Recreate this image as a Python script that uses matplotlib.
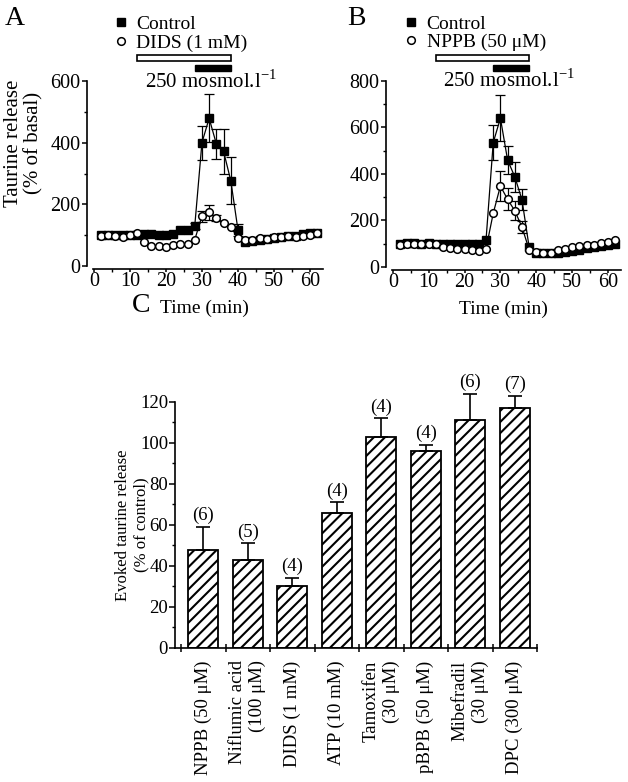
import matplotlib
matplotlib.use('Agg')
import matplotlib.pyplot as plt
from matplotlib.lines import Line2D
from matplotlib.patches import Rectangle
from matplotlib.ticker import MultipleLocator
import numpy as np

plt.rcParams['font.family'] = ['Liberation Serif', 'DejaVu Serif']
plt.rcParams['mathtext.fontset'] = 'custom'
plt.rcParams['mathtext.rm'] = 'Liberation Serif'
plt.rcParams['hatch.linewidth'] = 1.5

# ---- panel A / B : time course (min) ----
time = [2, 4, 6, 8, 10, 12, 14, 16, 18, 20, 22, 24, 26, 28, 30, 32,
        34, 36, 38, 40, 42, 44, 46, 48, 50, 52, 54, 56, 58, 60, 62]

a_ctrl = [100, 100, 100, 102, 100, 100, 104, 104, 100, 100, 104, 117, 117, 129, 400, 479,
          396, 372, 277, 117, 78, 80, 84, 88, 92, 94, 96, 98, 104, 106, 108]
a_ctrl_err = [0, 0, 0, 0, 0, 0, 0, 0, 0, 0, 0, 0, 0, 10, 55, 78,
              50, 72, 75, 18, 0, 0, 0, 0, 0, 0, 0, 0, 0, 0, 0]
a_dids = [98, 100, 98, 95, 100, 108, 79, 66, 66, 62, 67, 73, 73, 85, 162, 174,
          156, 140, 127, 91, 84, 84, 90, 88, 95, 95, 98, 95, 98, 100, 106]
a_dids_err = [0, 0, 0, 0, 0, 0, 0, 0, 0, 0, 0, 0, 0, 0, 18, 24,
              10, 0, 0, 0, 0, 0, 0, 0, 0, 0, 0, 0, 0, 0, 0]

b_ctrl = [100, 102, 102, 100, 102, 100, 98, 98, 98, 98, 98, 98, 118, 535, 640, 460,
          388, 290, 86, 62, 60, 58, 60, 65, 70, 75, 80, 85, 90, 95, 100]
b_ctrl_err = [0, 0, 0, 0, 0, 0, 0, 0, 0, 0, 0, 0, 0, 76, 100, 60,
              65, 47, 0, 0, 0, 0, 0, 0, 0, 0, 0, 0, 0, 0, 0]
b_nppb = [95, 98, 100, 97, 100, 97, 86, 83, 79, 76, 72, 69, 79, 231, 348, 291,
          242, 172, 75, 65, 62, 62, 72, 79, 86, 89, 93, 96, 103, 108, 115]
b_nppb_err = [0, 0, 0, 0, 0, 0, 0, 0, 0, 0, 0, 0, 0, 0, 66, 48,
              40, 25, 0, 0, 0, 0, 0, 0, 0, 0, 0, 0, 0, 0, 0]

drug_period = (12, 38)
hypo_period = (28, 38)

# ---- panel C : evoked release ----
drugs = ['NPPB (50 \u03bcM)', 'Niflumic acid\n(100 \u03bcM)', 'DIDS (1 mM)', 'ATP (10 mM)',
         'Tamoxifen\n(30 \u03bcM)', 'pBPB (50 \u03bcM)', 'Mibefradil\n(30 \u03bcM)', 'DPC (300 \u03bcM)']
evoked = [48, 43, 30, 66, 103, 96, 111, 117]
evoked_err = [11, 8, 4, 5, 9, 3, 13, 6]
n_exp = [6, 5, 4, 4, 4, 4, 6, 7]

fig = plt.figure(figsize=(6.28, 7.82), dpi=100)


def time_panel(ax, ctrl, ctrl_err, drug, drug_err, drug_label, ymax, ystep):
    ax.plot(time, ctrl, '-s', color='k', ms=5.5, lw=0.9, zorder=2, clip_on=False)
    ax.plot(time, drug, '-o', color='k', mfc='white', mec='k', mew=1.1, ms=5.5,
            lw=0.9, zorder=3, clip_on=False)
    for y, e, z in [(ctrl, ctrl_err, 1.5), (drug, drug_err, 2.5)]:
        sel = [i for i in range(len(time)) if e[i] > 0]
        ax.errorbar([time[i] for i in sel], [y[i] for i in sel], yerr=[e[i] for i in sel],
                    fmt='none', ecolor='k', elinewidth=0.9, capsize=3.5, capthick=0.9,
                    zorder=z)
    ax.set_xlim(-1.9, 63.5)
    ax.set_ylim(0, ymax)
    ax.spines['top'].set_visible(False)
    ax.spines['right'].set_visible(False)
    ax.spines['bottom'].set_bounds(-0.2, 63.5)
    ax.spines['bottom'].set_position(('outward', 2))
    for s in ['left', 'bottom']:
        ax.spines[s].set_linewidth(1.2)
    ax.xaxis.set_major_locator(MultipleLocator(10))
    ax.xaxis.set_minor_locator(MultipleLocator(5))
    ax.yaxis.set_major_locator(MultipleLocator(ystep))
    ax.yaxis.set_minor_locator(MultipleLocator(ystep / 2))
    ax.tick_params(which='major', length=3.5, width=1.1, labelsize=14.5, pad=1)
    ax.tick_params(axis='x', which='major', length=2.5, pad=0)
    ax.tick_params(which='minor', length=2.2, width=1.0)
    ax.set_xlabel('Time (min)', fontsize=14, labelpad=6)

    tr = ax.get_xaxis_transform()
    ax.add_patch(Rectangle((drug_period[0], 1.108), drug_period[1] - drug_period[0], 0.033,
                           transform=tr, facecolor='white', edgecolor='k', lw=1.2, clip_on=False))
    ax.add_patch(Rectangle((hypo_period[0], 1.056), hypo_period[1] - hypo_period[0], 0.03,
                           transform=tr, facecolor='k', edgecolor='k', lw=1, clip_on=False))
    ax.text(32.5, 1.0, r'250 mosmol.l$^{\mathregular{-1}}$', transform=tr,
            ha='center', va='center', fontsize=15)

    handles = [Line2D([], [], ls='none', marker='s', color='k', ms=5.5),
               Line2D([], [], ls='none', marker='o', mfc='white', mec='k', mew=1.1, ms=5.5)]
    ax.legend(handles, ['Control', drug_label], loc='upper left', frameon=False,
              fontsize=14, handlelength=0.8, handletextpad=0.4, labelspacing=0.05,
              borderpad=0, borderaxespad=0, bbox_to_anchor=(0.11, 1.354))


axA = fig.add_axes([0.1385, 0.6598, 0.3753, 0.2366])
time_panel(axA, a_ctrl, a_ctrl_err, a_dids, a_dids_err, 'DIDS (1 mM)', 600, 200)
axA.set_ylabel('Taurine release\n(% of basal)', fontsize=15, linespacing=1.1)
axA.yaxis.set_label_coords(-0.185, 0.665)

axB = fig.add_axes([0.6146, 0.6586, 0.3736, 0.2379])
time_panel(axB, b_ctrl, b_ctrl_err, b_nppb, b_nppb_err, 'NPPB (50 \u03bcM)', 800, 200)
axB.get_legend().set_bbox_to_anchor((0.074, 1.354))

# ---- panel C ----
axC = fig.add_axes([0.2787, 0.1714, 0.5764, 0.3146])
x = np.arange(len(drugs))
axC.bar(x, evoked, width=0.67, color='white', edgecolor='k', hatch='///', lw=1.3, zorder=2)
eb = axC.errorbar(x, evoked, yerr=[np.zeros(len(x)), evoked_err], fmt='none', ecolor='k',
                  elinewidth=1.2, capsize=5, capthick=1.2, zorder=3)
for art in list(eb.lines[1]) + list(eb.lines[2]):
    art.set_clip_on(False)
for xi, v, e, n in zip(x, evoked, evoked_err, n_exp):
    axC.annotate('(%d)' % n, (xi, v + e), xytext=(0, 2), textcoords='offset points',
                 ha='center', va='bottom', fontsize=13.5, annotation_clip=False)
axC.set_xlim(-0.635, len(drugs) - 0.5)
axC.set_ylim(0, 120)
axC.spines['top'].set_visible(False)
axC.spines['right'].set_visible(False)
for s in ['left', 'bottom']:
    axC.spines[s].set_linewidth(1.2)
axC.set_xticks(np.arange(len(drugs) + 1) - 0.5)
axC.set_xticklabels([])
axC.set_xticks(x, drugs, minor=True)
axC.tick_params(axis='x', which='major', direction='inout', length=6, width=1.1)
axC.tick_params(axis='x', which='minor', length=0, pad=9, labelsize=13.5)
for lab in axC.get_xticklabels(minor=True):
    lab.set_rotation(90)
    lab.set_va('top')
    lab.set_ha('center')
    lab.set_multialignment('right')
axC.yaxis.set_major_locator(MultipleLocator(20))
axC.yaxis.set_minor_locator(MultipleLocator(10))
axC.tick_params(axis='y', which='major', length=4, width=1.1, labelsize=13.5, pad=1)
axC.tick_params(axis='y', which='minor', length=2.5, width=1.0)
axC.set_ylabel('Evoked taurine release\n(% of control)', fontsize=12)
axC.yaxis.set_label_coords(-0.07, 0.5)

fig.text(0.008, 1 - 6 / 782, 'A', fontsize=20, va='top', ha='left')
fig.text(0.553, 1 - 6 / 782, 'B', fontsize=20, va='top', ha='left')
fig.text(132 / 628, 1 - 293 / 782, 'C', fontsize=20, va='top', ha='left')

fig.savefig('out.png', dpi=100)
